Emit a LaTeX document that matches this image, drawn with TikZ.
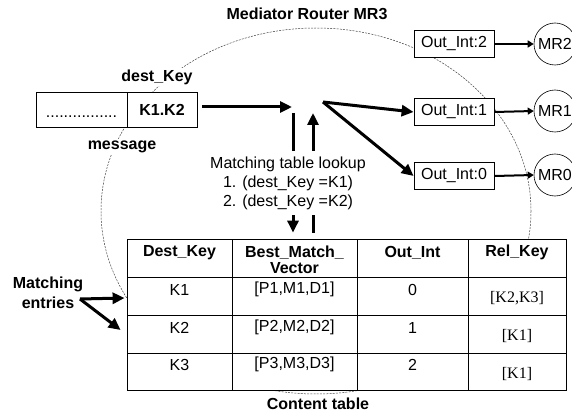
\documentclass[tikz,border=0pt]{standalone}
\usepackage{fontspec}
\setmainfont{Liberation Serif}
\setsansfont{Liberation Sans}
\usetikzlibrary{arrows.meta,calc}
\begin{document}
\begin{tikzpicture}[x=1pt,y=-1pt,
  every node/.style={inner sep=0pt, font=\sffamily\fontsize{16}{19}\selectfont},
  bold/.style={font=\sffamily\bfseries\fontsize{16}{19}\selectfont},
  lab/.style={bold, fill=white, inner sep=2pt},
  outbox/.style={draw, fill=white, line width=0.8pt, minimum height=27pt, minimum width=80pt},
  cell/.style={draw, fill=white, line width=0.8pt},
  serif/.style={font=\rmfamily\fontsize{16}{19}\selectfont},
  router/.style={circle, draw, line width=0.6pt, minimum size=42pt},
  bigarrow/.style={line width=3pt, -{Triangle[length=12pt,width=11pt]}},
  midarrow/.style={line width=2pt, -{Triangle[length=6pt,width=7pt]}},
  boundary/.style={draw=black!75, line width=0.5pt, dash pattern=on 2pt off 1.2pt}
]
\useasboundingbox (0,0) rectangle (572,414);

% router boundary
\draw[boundary] (316,211) ellipse [x radius=215, y radius=183];

% title
\node[bold] (title) at (307,14) {Mediator Router MR3};

% message
\node[cell, minimum width=91pt, minimum height=35pt] (msgL) at (81.5,109.5) {};
\node (dots) at ($(msgL.center)+(0,7)$) {................};
\node[cell, bold, minimum width=70pt, minimum height=35pt] (msgR) at (162,109.5) {K1.K2};
\node[lab] (destkey) at (157,77) {dest\_Key};
\node[lab] (msglab) at (122,147) {message};

% hub coordinates
\coordinate (hubin) at (292,107);
\coordinate (hubout) at (323,102);
\coordinate (dntop) at (293,113);
\coordinate (uptip) at (313,113);

% output interfaces
\node[outbox] (out2) at (454,44) {Out\_Int:2};
\node[outbox] (out1) at (454,112) {Out\_Int:1};
\node[outbox] (out0) at (454,176) {Out\_Int:0};
\node[router] (mr2) at (555,44) {MR2};
\node[router] (mr1) at (555,111) {MR1};
\node[router] (mr0) at (555,175) {MR0};
\draw[midarrow] (out2.east) -- (mr2.west);
\draw[midarrow] (out1.east) -- (mr1.west);
\draw[midarrow] (out0.east) -- (mr0.west);

% content table
\node[cell, minimum width=105pt, minimum height=38pt] (h1) at (179.5,258) {};
\node[cell, minimum width=125pt, minimum height=38pt] (h2) at (294.5,258) {};
\node[cell, minimum width=111pt, minimum height=38pt] (h3) at (412.5,258) {};
\node[cell, minimum width=98pt, minimum height=38pt] (h4) at (517,258) {};
\node[cell, minimum width=105pt, minimum height=38pt] (a1) at (179.5,296) {};
\node[cell, minimum width=125pt, minimum height=38pt] (a2) at (294.5,296) {};
\node[cell, minimum width=111pt, minimum height=38pt] (a3) at (412.5,296) {};
\node[cell, minimum width=98pt, minimum height=38pt] (a4) at (517,296) {};
\node[cell, minimum width=105pt, minimum height=38pt] (b1) at (179.5,334) {};
\node[cell, minimum width=125pt, minimum height=38pt] (b2) at (294.5,334) {};
\node[cell, minimum width=111pt, minimum height=38pt] (b3) at (412.5,334) {};
\node[cell, minimum width=98pt, minimum height=38pt] (b4) at (517,334) {};
\node[cell, minimum width=105pt, minimum height=37pt] (c1) at (179.5,371.5) {};
\node[cell, minimum width=125pt, minimum height=37pt] (c2) at (294.5,371.5) {};
\node[cell, minimum width=111pt, minimum height=37pt] (c3) at (412.5,371.5) {};
\node[cell, minimum width=98pt, minimum height=37pt] (c4) at (517,371.5) {};

\node[bold] (t11) at ($(h1.north)+(0,14)$) {Dest\_Key};
\node[bold, align=center, font=\sffamily\bfseries\fontsize{16}{16}\selectfont] (t12) at ($(h2.north)+(0,21)$) {Best\_Match\_\\Vector};
\node[bold] (t13) at ($(h3.north)+(0,14)$) {Out\_Int};
\node[bold] (t14) at ($(h4.north)+(0,14)$) {Rel\_Key};

\node (t21) at ($(a1.north)+(0,13)$) {K1};
\node (t22) at ($(a2.north)+(0,13)$) {[P1,M1,D1]};
\node (t23) at ($(a3.north)+(0,13)$) {0};
\node[serif] (t24) at ($(a4.north)+(0,22)$) {[K2,K3]};

\node (t31) at ($(b1.north)+(0,13)$) {K2};
\node (t32) at ($(b2.north)+(0,13)$) {[P2,M2,D2]};
\node (t33) at ($(b3.north)+(0,13)$) {1};
\node[serif] (t34) at ($(b4.north)+(0,21)$) {[K1]};

\node (t41) at ($(c1.north)+(0,12)$) {K3};
\node (t42) at ($(c2.north)+(0,12)$) {[P3,M3,D3]};
\node (t43) at ($(c3.north)+(0,12)$) {2};
\node[serif] (t44) at ($(c4.north)+(0,21)$) {[K1]};

\node[bold] (ctlab) at (318,404) {Content table};

% lookup arrows
\draw[bigarrow] (dntop) -- ($(h2.north)+(-1.5,-6)$);
\draw[bigarrow] ($(h2.north)+(18.5,-6)$) -- (uptip);
\node[align=center, fill=white, inner xsep=2pt, inner ysep=6pt] (lookup) at (288,183)
  {Matching table lookup\\1. (dest\_Key =K1)\\2. (dest\_Key =K2)};

% message to hub, hub to interfaces
\draw[bigarrow] ($(msgR.east)+(5,-2.5)$) -- (hubin);
\draw[bigarrow] (hubout) -- (out1.west);
\draw[bigarrow] (hubout) -- (out0.west);

% matching entries
\node[bold, align=center, font=\sffamily\bfseries\fontsize{16}{20}\selectfont] (melab) at (48,293) {Matching\\entries};
\coordinate (mesrc) at (80,299);
\draw[bigarrow] (mesrc) -- ($(a1.west)+(-2,2)$);
\draw[bigarrow] (mesrc) -- ($(b1.west)+(-6,-4)$);
\end{tikzpicture}
\end{document}
